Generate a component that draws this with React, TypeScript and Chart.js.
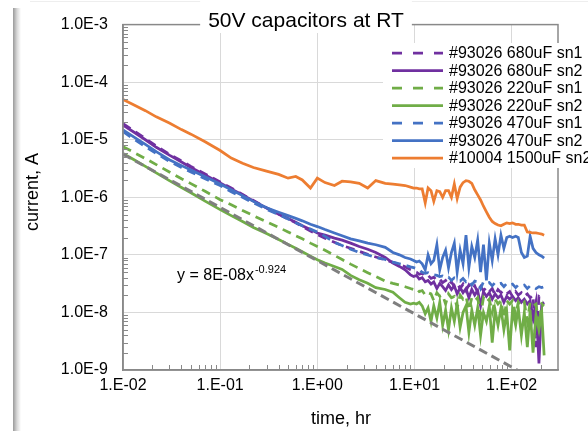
import React, { useEffect, useRef } from 'react';
import { Chart, registerables } from 'chart.js';

Chart.register(...registerables);

const FONT = '"Liberation Sans", Arial, Helvetica, sans-serif';

const TITLE = '50V capacitors at RT';
const X_TITLE = 'time, hr';
const Y_TITLE = 'current, A';

const X_MIN = 0.01;
const X_MAX = 300;
const Y_MIN = 1e-9;
const Y_MAX = 1e-3;
const X_TICKS = [0.01, 0.1, 1, 10, 100];
const X_TICK_LABELS = ['1.E-02', '1.E-01', '1.E+00', '1.E+01', '1.E+02'];
const Y_TICKS = [1e-9, 1e-8, 1e-7, 1e-6, 1e-5, 1e-4, 1e-3];
const Y_TICK_LABELS = ['1.0E-9', '1.0E-8', '1.0E-7', '1.0E-6', '1.0E-5', '1.0E-4', '1.0E-3'];
const MINOR_STEPS = [2, 3, 4, 5, 6, 7, 8, 9];

// time, hr
const TIME = [
  0.01, 0.013, 0.017, 0.022, 0.03, 0.04, 0.05, 0.07, 0.1, 0.13,
  0.17, 0.22, 0.3, 0.4, 0.5, 0.6, 0.7, 0.85, 1, 1.2,
  1.5, 1.8, 2.2, 2.7, 3.3, 4, 5, 6, 7, 8,
  9.1, 9.8, 10.5, 11.2, 12, 12.9, 13.8, 14.8, 15.8, 17,
  18.2, 19.5, 20.9, 22.4, 24, 25.7, 27.5, 29.5, 31.6, 33.9,
  36.3, 38.9, 41.7, 44.7, 47.9, 51.3, 55, 58.9, 63.1, 67.6,
  72.4, 77.6, 83.2, 89.1, 95.5, 102, 110, 117, 126, 135,
  145, 155, 166, 178, 191, 204, 216,
];

// #93026 680uF sn1
const C680_SN1 = [
  1.9e-5, 1.42e-5, 1.05e-5, 7.8e-6, 5.6e-6, 4.3e-6, 3.45e-6, 2.55e-6, 1.85e-6, 1.45e-6,
  1.12e-6, 8.8e-7, 6.6e-7, 5.1e-7, 4.2e-7, 3.6e-7, 3.1e-7, 2.6e-7, 2.25e-7, 1.95e-7,
  1.65e-7, 1.45e-7, 1.3e-7, 1.15e-7, 1.02e-7, 9.2e-8, 8.2e-8, 7.4e-8, 6.8e-8, 6.2e-8,
  5.5e-8, 5.2e-8, 5.0e-8, 4.6e-8, 4.8e-8, 4.2e-8, 4.4e-8, 3.9e-8, 4.1e-8, 3.6e-8,
  3.8e-8, 3.3e-8, 3.6e-8, 3.0e-8, 3.4e-8, 2.8e-8, 3.2e-8, 2.6e-8, 3.1e-8, 2.4e-8,
  3.0e-8, 2.5e-8, 2.9e-8, 2.2e-8, 2.8e-8, 2.4e-8, 2.7e-8, 2.3e-8, 2.6e-8, 2.0e-8,
  2.5e-8, 2.2e-8, 2.4e-8, 2.1e-8, 2.3e-8, 1.9e-8, 2.3e-8, 2.0e-8, 2.2e-8, 1.9e-8,
  2.1e-8, 1.8e-8, 2.0e-8, 2.5e-9, 1.9e-8, 1.8e-8, 1.9e-8,
];

// #93026 680uF sn2
const C680_SN2 = [
  1.8e-5, 1.35e-5, 1.0e-5, 7.4e-6, 5.4e-6, 4.1e-6, 3.3e-6, 2.45e-6, 1.78e-6, 1.4e-6,
  1.1e-6, 8.6e-7, 6.5e-7, 5.1e-7, 4.3e-7, 3.7e-7, 3.2e-7, 2.75e-7, 2.4e-7, 2.2e-7,
  1.95e-7, 1.8e-7, 1.6e-7, 1.4e-7, 1.25e-7, 1.1e-7, 9e-8, 7.2e-8, 6.3e-8, 5.5e-8,
  4.5e-8, 4.2e-8, 4.4e-8, 3.8e-8, 4.0e-8, 3.4e-8, 3.6e-8, 3.1e-8, 3.4e-8, 2.6e-8,
  3.2e-8, 2.8e-8, 2.4e-8, 3.0e-8, 2.5e-8, 2.9e-8, 2.1e-8, 2.7e-8, 2.2e-8, 2.6e-8,
  1.8e-8, 2.5e-8, 2.0e-8, 2.4e-8, 1.3e-8, 2.3e-8, 1.9e-8, 2.2e-8, 1.7e-8, 2.1e-8,
  1.8e-8, 2.0e-8, 1.5e-8, 1.9e-8, 1.7e-8, 1.9e-8, 1.6e-8, 1.8e-8, 1.5e-8, 1.7e-8,
  1.4e-8, 1.6e-8, 8e-9, 1.5e-8, 1.3e-9, 1.4e-8, 1.5e-8,
];

// #93026 220uF sn1
const C220_SN1 = [
  7.6e-6, 6.0e-6, 4.7e-6, 3.7e-6, 2.75e-6, 2.1e-6, 1.73e-6, 1.27e-6, 9.1e-7, 7.4e-7,
  5.9e-7, 4.8e-7, 3.75e-7, 3.0e-7, 2.5e-7, 2.14e-7, 1.9e-7, 1.6e-7, 1.4e-7, 1.2e-7,
  9.8e-8, 8.3e-8, 6.9e-8, 5.8e-8, 4.9e-8, 4.2e-8, 3.5e-8, 3.2e-8, 3.0e-8, 2.8e-8,
  2.6e-8, 2.5e-8, 2.6e-8, 2.3e-8, 2.4e-8, 2.0e-8, 2.2e-8, 2.1e-8, 1.6e-8, 2.2e-8,
  1.9e-8, 2.0e-8, 1.4e-8, 2.1e-8, 1.8e-8, 1.9e-8, 1.2e-8, 2.0e-8, 1.7e-8, 1.9e-8,
  1.1e-8, 1.8e-8, 1.6e-8, 1.8e-8, 9e-9, 1.8e-8, 1.5e-8, 1.7e-8, 1.0e-8, 1.7e-8,
  1.4e-8, 1.6e-8, 8e-9, 1.6e-8, 1.4e-8, 1.6e-8, 9e-9, 1.5e-8, 1.3e-8, 1.5e-8,
  7e-9, 1.5e-8, 1.3e-8, 1.4e-8, 6e-9, 1.4e-8, 1.3e-8,
];

// #93026 220uF sn2
const C220_SN2 = [
  5.75e-6, 4.5e-6, 3.45e-6, 2.65e-6, 1.95e-6, 1.48e-6, 1.2e-6, 8.6e-7, 6.1e-7, 4.8e-7,
  3.8e-7, 3.0e-7, 2.35e-7, 1.85e-7, 1.52e-7, 1.3e-7, 1.13e-7, 9.5e-8, 8.2e-8, 7.2e-8,
  6.3e-8, 5.6e-8, 4.4e-8, 3.7e-8, 3.2e-8, 2.7e-8, 2.5e-8, 2.24e-8, 1.8e-8, 1.5e-8,
  1.4e-8, 1.45e-8, 1.4e-8, 1.5e-8, 1.3e-8, 9.5e-9, 1.2e-8, 7e-9, 1.3e-8, 8e-9,
  1.5e-8, 6e-9, 1.1e-8, 5e-9, 1.2e-8, 7e-9, 1.4e-8, 5.5e-9, 1.0e-8, 1.3e-8,
  4.5e-9, 1.1e-8, 6e-9, 1.2e-8, 4e-9, 1.0e-8, 7e-9, 1.3e-8, 3e-9, 1.1e-8,
  6e-9, 1.2e-8, 5e-9, 1.0e-8, 2.2e-9, 1.1e-8, 6e-9, 1.2e-8, 4e-9, 1.0e-8,
  2.5e-9, 1.1e-8, 2e-9, 9e-9, 5e-9, 1.0e-8, 1.8e-9,
];

// #93026 470uF sn1
const C470_SN1 = [
  1.38e-5, 1.02e-5, 7.6e-6, 5.8e-6, 4.2e-6, 3.3e-6, 2.75e-6, 2.1e-6, 1.6e-6, 1.25e-6,
  1.0e-6, 8.0e-7, 6.2e-7, 5.0e-7, 4.2e-7, 3.6e-7, 3.2e-7, 2.8e-7, 2.5e-7, 2.1e-7,
  1.65e-7, 1.45e-7, 1.25e-7, 1.1e-7, 1.0e-7, 9e-8, 8.3e-8, 7.5e-8, 7e-8, 6.6e-8,
  6.2e-8, 6.0e-8, 5.8e-8, 5.5e-8, 5.0e-8, 4.8e-8, 4.9e-8, 4.6e-8, 4.5e-8, 4.4e-8,
  4.2e-8, 4.3e-8, 4.0e-8, 4.1e-8, 3.6e-8, 4.0e-8, 3.8e-8, 3.5e-8, 3.9e-8, 3.4e-8,
  3.6e-8, 3.0e-8, 3.5e-8, 3.4e-8, 2.6e-8, 3.4e-8, 3.2e-8, 3.3e-8, 2.9e-8, 3.3e-8,
  3.1e-8, 3.2e-8, 2.8e-8, 3.2e-8, 3.0e-8, 3.1e-8, 2.7e-8, 3.0e-8, 2.9e-8, 3.0e-8,
  2.6e-8, 2.9e-8, 2.8e-8, 2.6e-8, 2.8e-8, 2.7e-8, 2.8e-8,
];

// #93026 470uF sn2
const C470_SN2 = [
  1.48e-5, 1.11e-5, 8.3e-6, 6.2e-6, 4.5e-6, 3.55e-6, 2.97e-6, 2.27e-6, 1.7e-6, 1.35e-6,
  1.07e-6, 8.5e-7, 6.6e-7, 5.5e-7, 4.8e-7, 4.3e-7, 3.9e-7, 3.4e-7, 3.1e-7, 2.75e-7,
  2.4e-7, 2.15e-7, 1.9e-7, 1.75e-7, 1.6e-7, 1.5e-7, 1.35e-7, 1.1e-7, 1.0e-7, 9e-8,
  8.5e-8, 8e-8, 7.5e-8, 7.8e-8, 7e-8, 5.5e-8, 1.0e-7, 7e-8, 8e-8, 1.5e-7,
  5.5e-8, 9e-8, 1.2e-7, 6e-8, 1.1e-7, 1.6e-7, 5e-8, 1.2e-7, 7e-8, 2.2e-7,
  6e-8, 1.4e-7, 9e-8, 1.8e-7, 5e-8, 1.5e-7, 3.6e-8, 1.6e-7, 8e-8, 1.9e-7,
  1.0e-7, 2.2e-7, 1.3e-7, 2.0e-7, 2.1e-7, 2.0e-7, 2.1e-7, 2.0e-7, 1.1e-7, 9e-8,
  9.5e-8, 2.1e-7, 1.3e-7, 1.1e-7, 1.0e-7, 9.5e-8, 8.8e-8,
];

// #10004 1500uF sn2
const C1500_SN2 = [
  5.0e-5, 4.0e-5, 3.2e-5, 2.5e-5, 1.95e-5, 1.5e-5, 1.25e-5, 9.2e-6, 6.5e-6, 4.8e-6,
  3.9e-6, 3.3e-6, 2.85e-6, 2.5e-6, 2.15e-6, 2.3e-6, 2.0e-6, 1.45e-6, 2.15e-6, 1.8e-6,
  1.6e-6, 1.9e-6, 1.85e-6, 1.75e-6, 1.45e-6, 1.95e-6, 1.75e-6, 1.7e-6, 1.65e-6, 1.6e-6,
  1.5e-6, 1.45e-6, 1.45e-6, 1.4e-6, 1.4e-6, 8e-7, 1.45e-6, 1.3e-6, 8.5e-7, 1.3e-6,
  1.25e-6, 1.0e-6, 1.3e-6, 1.3e-6, 1.0e-6, 1.7e-6, 9.5e-7, 1.5e-6, 1.8e-6, 1.95e-6,
  1.9e-6, 1.75e-6, 1.35e-6, 1.1e-6, 9e-7, 7e-7, 5.6e-7, 4.5e-7, 3.8e-7, 3.5e-7,
  3.3e-7, 3.2e-7, 3.4e-7, 3.6e-7, 3.5e-7, 3.6e-7, 3.4e-7, 3.4e-7, 3.3e-7, 3.3e-7,
  2.5e-7, 2.45e-7, 2.4e-7, 2.4e-7, 2.35e-7, 2.3e-7, 2.2e-7,
];

// power trendline end points: y = 8E-08x^-0.924
const TREND_X = [0.01, 114];
const TREND_Y = [5.6e-6, 1.0e-9];
const TREND_TEXT = 'y = 8E-08x';
const TREND_EXP = '-0.924';

const SERIES_LABELS = [
  '#93026 680uF sn1',
  '#93026 680uF sn2',
  '#93026 220uF sn1',
  '#93026 220uF sn2',
  '#93026 470uF sn1',
  '#93026 470uF sn2',
  '#10004 1500uF sn2',
];
const SERIES_VALUES = [C680_SN1, C680_SN2, C220_SN1, C220_SN2, C470_SN1, C470_SN2, C1500_SN2];
const SERIES_COLORS = ['#7030A0', '#7030A0', '#70AD47', '#70AD47', '#4472C4', '#4472C4', '#ED7D31'];
const SERIES_DASHED = [true, false, true, false, true, false, false];

const AXIS_COLOR = '#898989';
const GRID_COLOR = '#d9d9d9';

const overlay = {
  id: 'overlay',
  afterDraw(chart: any) {
    const { ctx, chartArea: a, scales } = chart;
    const xs = scales.x;
    const ys = scales.y;
    ctx.save();
    // frame
    ctx.setLineDash([]);
    ctx.strokeStyle = AXIS_COLOR;
    ctx.lineWidth = 1.5;
    ctx.strokeRect(a.left, a.top, a.right - a.left, a.bottom - a.top);
    // minor ticks, inside
    ctx.lineWidth = 1;
    ctx.beginPath();
    for (const base of X_TICKS) {
      for (const m of MINOR_STEPS) {
        const v = base * m;
        if (v >= X_MAX) continue;
        const px = Math.round(xs.getPixelForValue(v)) + 0.5;
        ctx.moveTo(px, a.bottom);
        ctx.lineTo(px, a.bottom - 5);
      }
    }
    for (const base of Y_TICKS) {
      for (const m of MINOR_STEPS) {
        const v = base * m;
        if (v >= Y_MAX) continue;
        const py = Math.round(ys.getPixelForValue(v)) + 0.5;
        ctx.moveTo(a.left, py);
        ctx.lineTo(a.left + 5, py);
      }
    }
    ctx.stroke();

    // title with white box
    ctx.font = `21px ${FONT}`;
    const tw = ctx.measureText(TITLE).width;
    const tcx = 306;
    ctx.fillStyle = '#ffffff';
    ctx.fillRect(tcx - tw / 2 - 8, 0, tw + 16, 33);
    ctx.fillStyle = '#000000';
    ctx.textAlign = 'center';
    ctx.textBaseline = 'alphabetic';
    ctx.fillText(TITLE, tcx, 27);

    // axis titles
    ctx.font = `18px ${FONT}`;
    ctx.fillText(X_TITLE, 341, 424);
    ctx.save();
    ctx.translate(33, 192);
    ctx.rotate(-Math.PI / 2);
    ctx.textBaseline = 'middle';
    ctx.fillText(Y_TITLE, 0, 0);
    ctx.restore();

    // trendline equation
    ctx.textAlign = 'left';
    ctx.textBaseline = 'alphabetic';
    ctx.font = `16px ${FONT}`;
    const ex = 177;
    const ey = 280;
    ctx.fillText(TREND_TEXT, ex, ey);
    const ew = ctx.measureText(TREND_TEXT).width;
    ctx.font = `11px ${FONT}`;
    ctx.fillText(TREND_EXP, ex + ew + 1, ey - 7);

    // legend
    ctx.fillStyle = '#ffffff';
    ctx.fillRect(383, 43, 588 - 383, 125);
    ctx.font = `16px ${FONT}`;
    ctx.textBaseline = 'middle';
    SERIES_LABELS.forEach((label, i) => {
      const y = 53 + i * 17.5;
      ctx.strokeStyle = SERIES_COLORS[i];
      ctx.lineWidth = 2.75;
      ctx.setLineDash(SERIES_DASHED[i] ? [10, 11] : []);
      ctx.beginPath();
      ctx.moveTo(392, y);
      ctx.lineTo(443, y);
      ctx.stroke();
      ctx.fillStyle = '#000000';
      ctx.fillText(label, 449, y + 1);
    });
    ctx.restore();
  },
};

export default function App() {
  const ref = useRef<HTMLCanvasElement>(null);
  useEffect(() => {
    const canvas = ref.current;
    if (!canvas) return;
    const datasets: any[] = SERIES_LABELS.map((label, i) => ({
      label,
      data: TIME.map((t, j) => ({ x: t, y: SERIES_VALUES[i][j] })),
      borderColor: SERIES_COLORS[i],
      backgroundColor: SERIES_COLORS[i],
      borderWidth: 2.75,
      borderDash: SERIES_DASHED[i] ? [9, 6] : [],
      pointRadius: 0,
      fill: false,
      tension: 0,
      order: 20 - i,
    }));
    datasets.push({
      label: 'trend',
      data: TREND_X.map((x, j) => ({ x, y: TREND_Y[j] })),
      borderColor: '#7F7F7F',
      borderWidth: 3,
      borderDash: [9, 5],
      pointRadius: 0,
      fill: false,
      order: 0,
    });
    const chart = new Chart(canvas, {
      type: 'line',
      data: { datasets },
      options: {
        animation: false,
        responsive: false,
        devicePixelRatio: 1,
        layout: { padding: { left: 0, top: 22, right: 30, bottom: 0 } },
        plugins: {
          legend: { display: false },
          title: { display: false },
          tooltip: { enabled: false },
        },
        scales: {
          x: {
            type: 'logarithmic',
            min: X_MIN,
            max: X_MAX,
            position: 'bottom',
            afterBuildTicks: (s: any) => {
              s.ticks = X_TICKS.map((v) => ({ value: v }));
            },
            afterFit: (s: any) => {
              s.height = 61;
            },
            ticks: {
              autoSkip: false,
              maxRotation: 0,
              minRotation: 0,
              padding: 6,
              color: '#000000',
              font: { family: FONT, size: 16 },
              callback: (_v: any, i: number) => X_TICK_LABELS[i],
            },
            grid: { color: GRID_COLOR, lineWidth: 1, drawTicks: false },
            border: { color: AXIS_COLOR, width: 1.5 },
          },
          y: {
            type: 'logarithmic',
            min: Y_MIN,
            max: Y_MAX,
            position: 'left',
            afterBuildTicks: (s: any) => {
              s.ticks = Y_TICKS.map((v) => ({ value: v }));
            },
            afterFit: (s: any) => {
              s.width = 123;
            },
            ticks: {
              autoSkip: false,
              padding: 15,
              color: '#000000',
              font: { family: FONT, size: 16 },
              callback: (_v: any, i: number) => Y_TICK_LABELS[i],
            },
            grid: { color: GRID_COLOR, lineWidth: 1, drawTicks: false },
            border: { color: AXIS_COLOR, width: 1.5 },
          },
        },
      },
      plugins: [overlay],
    });
    return () => chart.destroy();
  }, []);

  return (
    <div style={{ position: 'fixed', left: 0, top: 0, width: 588, height: 431, background: '#ffffff', overflow: 'hidden' }}>
      <div style={{ position: 'absolute', left: 30, top: 1, width: 558, height: 1, background: '#eeeeee' }} />
      <div style={{ position: 'absolute', left: 13, top: 8, width: 8, height: 423, background: 'linear-gradient(to right, #9a9a9a, #d8d8d8 50%, #ffffff)' }} />
      <canvas ref={ref} width={588} height={431} style={{ position: 'absolute', left: 0, top: 0, width: 588, height: 431 }} />
    </div>
  );
}
